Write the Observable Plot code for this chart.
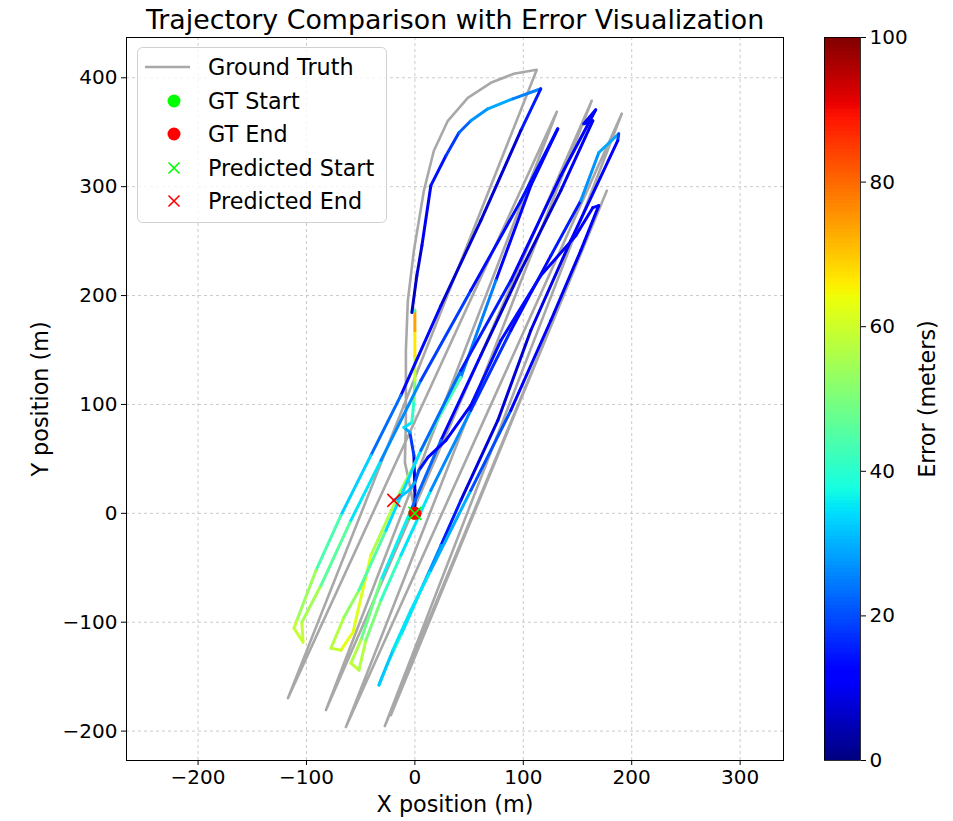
<!DOCTYPE html>
<html>
<head>
<meta charset="utf-8">
<script src="https://cdn.jsdelivr.net/npm/d3@7"></script>
<script src="https://cdn.jsdelivr.net/npm/@observablehq/plot@0.6"></script>
<style>
  body { margin: 0; background: #fff; font-family: "DejaVu Sans", sans-serif; }
  #wrap { position: relative; width: 953px; height: 821px; overflow: hidden; }
  #wrap > svg, #wrap > div { position: absolute; left: 0; top: 0; }
  #legend { left: 137px !important; top: 47px !important; width: 250px; height: 176px; }
</style>
</head>
<body>
<div id="wrap"></div>
<script>
// ---------- Data ----------
const xTicks = [-200, -100, 0, 100, 200, 300];
const yTicks = [-200, -100, 0, 100, 200, 300, 400];
const cbTicks = [0, 20, 40, 60, 80, 100];

// Ground truth trajectory (m)
const gtX = [0, -3.7, -9.2, -8.3, -8.3, -6.5, -0.9, 8.3, 17.5, 30.4, 48.8, 70.0, 91.2, 112.4, -117.1, 130.9, -82.0, 163.1, -63.6, 190.8, -27.7, 177.0, -22.1];
const gtY = [0, 21.1, 46.8, 85.3, 149.5, 195.4, 241.3, 296.3, 333.0, 360.5, 381.6, 395.4, 403.7, 407.3, -169.7, 368.8, -180.7, 378.9, -196.3, 367.0, -195.4, 296.3, -185.3];

// Predicted trajectory (m) and error (m)
const predX = [0, 0, -0.9, -4.6, -10.1, -2.8, -0.9, 0, 0, 0, 0, -2.8, 1.8, 6.5, 14.7, 28.6, 40.6, 51.6, 67.3, 90.3, 116.1,
  97.7, 60.8, 24.0, -12.9, -40.6, -68.2, -91.2, -108.8, -111.5, -103.2, -104.2, -86.6, -59.0, -31.3, 5.5, 51.6, 97.7, 131.8,
  106.9, 74.7, 42.4, 12.0, -17.5, -40.6, -57.1, -68.2, -77.4, -65.4, -51.6, -26.7, 5.5, 42.4, 88.5, 134.6, 166.8,
  155.8, 164.1, 134.6, 97.7, 60.8, 24.0, -3.7, -31.3, -49.8, -59.0, -51.6, -45.2, -31.3, -12.9, 14.7, 51.6, 88.5, 125.4, 153.0, 169.6, 188.0,
  187.1, 143.8, 106.9, 76.5, 42.4, 24.0, 5.5, -12.9, -25.8, -33.2, -20.3, -3.7, 14.7, 51.6, 88.5, 125.4, 153.0, 169.6,
  164.1, 148.4, 116.1, 79.3, 51.6, 28.6, 12.0, 3.7, 0, -5.5, -12.9, -19.4];
const predY = [0, 21.1, 53.2, 74.3, 78.9, 83.5, 103.7, 122.0, 145.0, 167.9, 186.2, 184.4, 218.3, 245.9, 300.9, 328.4, 349.5, 360.5, 371.5, 380.7, 389.9,
  351.4, 268.8, 190.8, 108.3, 53.2, -1.8, -52.3, -98.2, -105.5, -118.3, -100.0, -66.1, -6.4, 48.6, 122.0, 204.6, 287.1, 353.2,
  300.9, 213.8, 124.8, 69.7, 11.9, -38.5, -109.2, -125.7, -123.8, -95.4, -70.6, -15.6, 57.8, 131.2, 213.8, 310.1, 370.6,
  357.8, 360.5, 296.3, 222.9, 145.0, 67.0, 2.8, -61.5, -116.5, -137.6, -144.0, -116.5, -79.8, -38.5, 21.1, 94.5, 167.9, 236.7, 287.1, 331.2, 348.6,
  342.2, 250.5, 167.9, 85.3, 11.9, -29.4, -70.6, -111.9, -139.4, -157.8, -125.7, -89.0, -52.3, 21.1, 94.5, 177.1, 241.3, 282.6,
  280.7, 255.0, 218.3, 158.7, 99.1, 67.0, 51.4, 39.4, 28.4, 21.1, 15.6, 11.9];
const predErr = [3, 6, 12, 24, 33, 36, 45, 54, 63, 70, 78, 6, 6, 8, 12, 16, 20, 24, 30, 28, 22,
  8, 6, 8, 18, 28, 38, 50, 58, 58, 60, 58, 52, 40, 30, 22, 15, 12, 16,
  10, 15, 35, 52, 55, 58, 66, 60, 58, 56, 50, 40, 28, 18, 12, 10, 12,
  14, 12, 8, 6, 8, 15, 30, 42, 55, 58, 58, 55, 45, 38, 32, 20, 14, 12, 18, 36, 22,
  15, 10, 8, 6, 10, 20, 32, 36, 50, 30, 34, 36, 34, 25, 15, 10, 10, 14,
  12, 10, 12, 15, 12, 10, 12, 16, 26, 34, 30, 28];

const gtStart = [0, 0];
const gtEnd = [0, 0];
const predStart = [0, 0];
const predEnd = [-19.4, 11.9];

// ---------- Tables built from the arrays ----------
const gt = gtX.map((x, i) => ({x, y: gtY[i]}));
const segs = predX.slice(0, -1).map((x, i) => ({
  x1: x, y1: predY[i], x2: predX[i + 1], y2: predY[i + 1],
  err: (predErr[i] + predErr[i + 1]) / 2
}));

// matplotlib "jet" colormap
function pw(t, pts) {
  for (let i = 1; i < pts.length; i++) {
    if (t <= pts[i][0]) {
      const [t0, v0] = pts[i - 1], [t1, v1] = pts[i];
      return v0 + (v1 - v0) * (t - t0) / (t1 - t0);
    }
  }
  return pts[pts.length - 1][1];
}
function jet(t) {
  t = Math.max(0, Math.min(1, t));
  const r = pw(t, [[0, 0], [0.35, 0], [0.66, 1], [0.89, 1], [1, 0.5]]);
  const g = pw(t, [[0, 0], [0.125, 0], [0.375, 1], [0.64, 1], [0.91, 0], [1, 0]]);
  const b = pw(t, [[0, 0.5], [0.11, 1], [0.34, 1], [0.65, 0], [1, 0]]);
  return `rgb(${Math.round(r * 255)},${Math.round(g * 255)},${Math.round(b * 255)})`;
}
const colorScale = {type: "linear", domain: [0, 100], interpolate: jet, clamp: true};

const FONT = "DejaVu Sans, sans-serif";
const TICK = 20;
const LABEL = 22.3;

// ---------- Main chart ----------
const main = Plot.plot({
  width: 953,
  height: 821,
  marginTop: 37,
  marginBottom: 61,
  marginLeft: 126,
  marginRight: 170,
  style: {fontFamily: FONT, fontSize: TICK + "px", color: "#000", background: "white"},
  x: {domain: [-266, 340], label: null},
  y: {domain: [-227, 437], label: null},
  color: colorScale,
  marks: [
    Plot.gridX(xTicks, {stroke: "#bdbdbd", strokeOpacity: 1, strokeWidth: 0.8, strokeDasharray: "3,3"}),
    Plot.gridY(yTicks, {stroke: "#bdbdbd", strokeOpacity: 1, strokeWidth: 0.8, strokeDasharray: "3,3"}),
    Plot.line(gt, {x: "x", y: "y", stroke: "#a8a8a8", strokeWidth: 2.6, strokeLinejoin: "round"}),
    Plot.link(segs, {x1: "x1", y1: "y1", x2: "x2", y2: "y2", stroke: "err", strokeWidth: 3, strokeLinecap: "round"}),
    Plot.dot([gtStart], {x: d => d[0], y: d => d[1], r: 6.5, fill: "#00ff00", stroke: null}),
    Plot.dot([gtEnd], {x: d => d[0], y: d => d[1], r: 6.5, fill: "#ff0000", stroke: null}),
    Plot.dot([predStart], {x: d => d[0], y: d => d[1], r: 6, symbol: "times", stroke: "#00ff00", strokeWidth: 1.6}),
    Plot.dot([predEnd], {x: d => d[0], y: d => d[1], r: 6, symbol: "times", stroke: "#ff0000", strokeWidth: 1.6}),
    Plot.frame({stroke: "#000", strokeWidth: 1}),
    Plot.axisX(xTicks, {tickSize: 5, tickPadding: 4, label: null, fontSize: TICK}),
    Plot.axisY(yTicks, {tickSize: 5, tickPadding: 4, label: null, fontSize: TICK}),
    Plot.text(["Trajectory Comparison with Error Visualization"], {text: d => d, frameAnchor: "top", dy: -17, fontSize: 26.8, textAnchor: "middle", lineAnchor: "middle"}),
    Plot.text(["X position (m)"], {text: d => d, frameAnchor: "bottom", dy: 44, fontSize: LABEL, textAnchor: "middle", lineAnchor: "middle"}),
    Plot.text(["Y position (m)"], {text: d => d, frameAnchor: "left", dx: -86, rotate: -90, fontSize: LABEL, textAnchor: "middle", lineAnchor: "middle"})
  ]
});

// ---------- Colorbar ----------
const ramp = d3.range(0, 100, 0.5);
const cbar = Plot.plot({
  width: 953,
  height: 821,
  marginTop: 37,
  marginBottom: 61,
  marginLeft: 824,
  marginRight: 93,
  style: {fontFamily: FONT, fontSize: TICK + "px", color: "#000", background: "transparent"},
  x: {domain: [0, 1], axis: null},
  y: {domain: [0, 100], label: null},
  color: colorScale,
  marks: [
    Plot.rect(ramp, {x1: 0, x2: 1, y1: d => d, y2: d => d + 0.5, fill: d => d + 0.25, inset: 0, shapeRendering: "crispEdges"}),
    Plot.frame({stroke: "#000", strokeWidth: 0.8}),
    Plot.axisY(cbTicks, {anchor: "right", tickSize: 5, tickPadding: 4, label: null, fontSize: TICK}),
    Plot.text(["Error (meters)"], {text: d => d, frameAnchor: "right", dx: 67, rotate: -90, fontSize: LABEL, textAnchor: "middle", lineAnchor: "middle"})
  ]
});

// ---------- Legend ----------
const legendItems = [
  {label: "Ground Truth", kind: "line", color: "#a8a8a8"},
  {label: "GT Start", kind: "dot", color: "#00ff00"},
  {label: "GT End", kind: "dot", color: "#ff0000"},
  {label: "Predicted Start", kind: "x", color: "#00ff00"},
  {label: "Predicted End", kind: "x", color: "#ff0000"}
];
const rowY = [20, 54, 87, 121, 154];
let lg = `<svg width="250" height="176" xmlns="http://www.w3.org/2000/svg" style="font-family:${FONT};font-size:22.3px">
<rect x="0.5" y="0.5" width="249" height="175" rx="5" ry="5" fill="rgba(255,255,255,0.8)" stroke="#d0d0d0"/>`;
legendItems.forEach((it, i) => {
  const y = rowY[i];
  if (it.kind === "line") lg += `<line x1="8" x2="53" y1="${y}" y2="${y}" stroke="${it.color}" stroke-width="2.6"/>`;
  if (it.kind === "dot") lg += `<circle cx="37" cy="${y}" r="6.5" fill="${it.color}"/>`;
  if (it.kind === "x") lg += `<path d="M${37 - 5.5},${y - 5.5}L${37 + 5.5},${y + 5.5}M${37 - 5.5},${y + 5.5}L${37 + 5.5},${y - 5.5}" stroke="${it.color}" stroke-width="1.6"/>`;
  lg += `<text x="71" y="${y}" dominant-baseline="central" fill="#000">${it.label}</text>`;
});
lg += `</svg>`;

const wrap = document.getElementById("wrap");
wrap.appendChild(main);
wrap.appendChild(cbar);
const legend = document.createElement("div");
legend.id = "legend";
legend.innerHTML = lg;
wrap.appendChild(legend);
</script>
</body>
</html>
